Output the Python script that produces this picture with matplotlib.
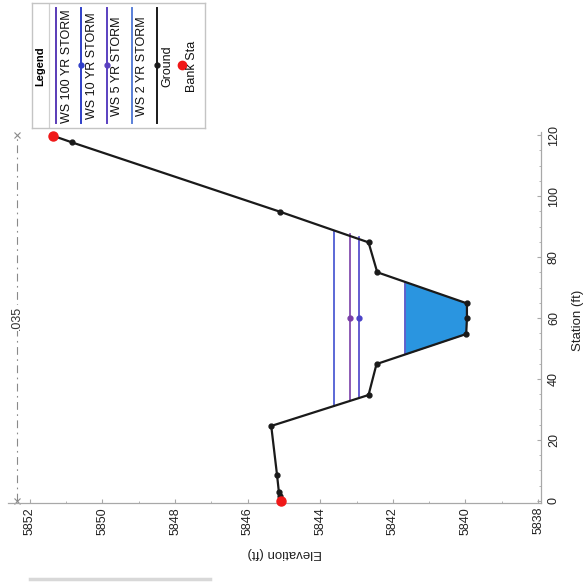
import numpy as np
import matplotlib
matplotlib.use('Agg')
import matplotlib.pyplot as plt
from matplotlib.lines import Line2D

plt.rcParams['font.family'] = ['Liberation Sans', 'DejaVu Sans']

# ground profile (station ft, elevation ft)
ground_sta = [0.0, 1.5, 3.0, 8.5, 24.6, 34.75, 44.9, 54.75, 59.9, 64.8, 75.0, 84.8, 94.9, 117.6, 119.8]
ground_elev = [5845.09, 5845.12, 5845.14, 5845.19, 5845.35, 5842.67, 5842.45, 5839.98,
               5839.96, 5839.96, 5842.43, 5842.67, 5845.12, 5850.84, 5851.37]

bank_sta = [0.0, 119.8]
bank_elev = [5845.09, 5851.37]

# water surface profiles
ws_names = ['WS 100 YR STORM', 'WS 10 YR STORM', 'WS 5 YR STORM', 'WS 2 YR STORM']
ws_elev = [5843.63, 5843.19, 5842.94, 5841.66]
ws_left = [31.2, 33.1, 33.9, 48.2]
ws_right = [88.6, 87.4, 86.7, 71.4]
ws_colors = ['#3f4fd0', '#7a3ea8', '#4a42c8', '#4848c4']
ws_marked = [False, True, True, False]
ws_mark_sta = 59.9

n_value = '.035'
n_sta = [0, 120]
n_elev = 5852.35

elev_ticks = np.arange(5838, 5853, 2)
sta_ticks = np.arange(0, 121, 20)

W, H = 587, 582
fig = plt.figure(figsize=(W / 100, H / 100), dpi=100)

ax = fig.add_axes([8 / W, 79.2 / H, 533 / W, 370.8 / H])
ax.set_xlim(5852.6, 5837.92)
ax.set_ylim(-0.6, 121)

gs = np.array(ground_sta)
ge = np.array(ground_elev)

# water fill for lowest profile
ax.fill_betweenx(gs, ge, ws_elev[3], where=(ge <= ws_elev[3]), interpolate=True,
                 color='#2a95e0', lw=0, zorder=2)

for name, e, l, r, c, m in zip(ws_names, ws_elev, ws_left, ws_right, ws_colors, ws_marked):
    ax.plot([e, e, e], [l, ws_mark_sta, r], color=c, lw=1.2, zorder=3,
            marker='o' if m else None, ms=3.5, markevery=[1])

ax.plot(ground_elev, ground_sta, color='#1a1a1a', lw=1.6, marker='o', ms=3.5, zorder=4)
ax.plot(bank_elev, bank_sta, 'o', color='#f01818', ms=6.5, zorder=5, clip_on=False)

# n value line
ax.plot([n_elev, n_elev], n_sta, color='#8a8a8a', lw=0.8, ls=(0, (7, 4, 1.5, 4)), zorder=1)
ax.plot([n_elev, n_elev], n_sta, 'x', color='#8a8a8a', ms=4, mew=0.8, clip_on=False)
ax.text(n_elev, 60, n_value, rotation=90, ha='center', va='center', fontsize=9,
        color='#333333', bbox=dict(fc='white', ec='none', pad=1))

for s in ['top', 'left']:
    ax.spines[s].set_visible(False)
for s in ['bottom', 'right']:
    ax.spines[s].set_color('#a8a8a8')
    ax.spines[s].set_linewidth(0.9)

ax.set_xticks(elev_ticks)
ax.set_xticklabels([str(t) for t in elev_ticks], rotation=90)
ax.set_xticks(np.arange(5838, 5853, 1), minor=True)
ax.yaxis.tick_right()
ax.set_yticks(sta_ticks)
ax.set_yticklabels([str(t) for t in sta_ticks], rotation=90, va='center')
ax.set_yticks(np.arange(0, 121, 5), minor=True)
ax.tick_params(which='both', direction='in', color='#a8a8a8', labelsize=9,
               labelcolor='#222222')
ax.tick_params(which='major', length=3)
ax.tick_params(which='minor', length=1.5)
ax.tick_params(axis='x', pad=3)
ax.tick_params(axis='y', pad=5)

fig.text(285 / W, 1 - 553 / H, 'Elevation (ft)', rotation=180, ha='center', va='center',
         fontsize=9.5, color='#222222')
fig.text(578 / W, 1 - 320 / H, 'Station (ft)', rotation=90, ha='center', va='center',
         fontsize=9.5, color='#222222')

# legend box, drawn in reference pixel units
lg = fig.add_axes([32 / W, 1 - 128 / H, 173 / W, 125 / H])
lg.set_xlim(32, 205)
lg.set_ylim(128, 3)
lg.set_xticks([])
lg.set_yticks([])
for s in lg.spines.values():
    s.set_color('#c4c4c4')
    s.set_linewidth(1.0)
lg.axvline(49, color='#d0d0d0', lw=0.9)
lg.text(40, 66, 'Legend', rotation=90, ha='center', va='center', fontsize=8, fontweight='bold')

line_x = [56, 81, 107, 132, 157]
text_x = [67, 92, 117, 142, 167, 192]
labels = ws_names + ['Ground', 'Bank Sta']
leg_colors = ['#5a3cb8', '#2f3fc8', '#5a40c0', '#5a80d8', '#1a1a1a']
leg_mark = [False, True, True, False, True]
for x, c, m in zip(line_x, leg_colors, leg_mark):
    lg.plot([x, x], [8, 123], color=c, lw=1.4)
    if m:
        lg.plot([x], [65], 'o', color=c, ms=3.5)
lg.plot([182], [65], 'o', color='#f01818', ms=6)
for x, t in zip(text_x, labels):
    lg.text(x, 66, t, rotation=90, ha='center', va='center', fontsize=9, color='#111111')

# faint scan bar at the bottom
fig.add_artist(Line2D([30 / W, 210 / W], [1 - 579 / H, 1 - 579 / H], color='#d8d8d8', lw=2.5))

fig.savefig('out.png', dpi=100)
